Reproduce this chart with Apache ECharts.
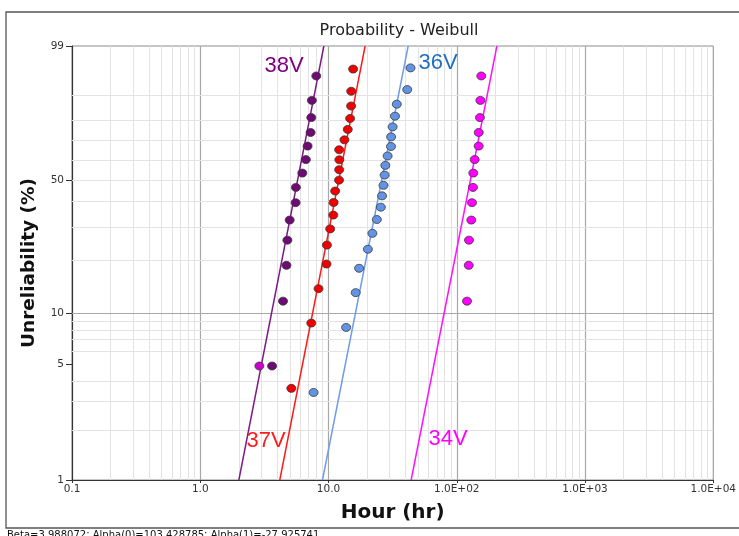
<!DOCTYPE html>
<html><head><meta charset="utf-8">
<script src="https://cdn.jsdelivr.net/npm/echarts@6/dist/echarts.min.js"></script>
<style>html,body{margin:0;padding:0;background:#fff}#c{width:739px;height:536px}</style>
</head><body><div id="c"></div>
<script>
// ---- data (hours, unreliability %) ----
const t38V = [3.63, 4.42, 4.70, 4.78, 4.98, 5.54, 5.57, 6.25, 6.66, 6.87, 7.25, 7.34, 7.42, 8.03];
const F38V = [4.9, 11.8, 18.8, 25.7, 32.6, 39.6, 46.5, 53.5, 60.4, 67.4, 74.3, 81.3, 88.2, 95.1];
const t37V = [5.13, 7.34, 8.36, 9.65, 9.72, 10.31, 10.90, 10.96, 11.27, 12.08, 12.11, 12.15, 12.11, 13.31, 14.13, 14.74, 15.01, 15.03, 15.56];
const F37V = [3.6, 8.8, 13.9, 19.1, 24.2, 29.4, 34.5, 39.7, 44.8, 50.0, 55.2, 60.3, 65.5, 70.6, 75.8, 80.9, 86.1, 91.2, 96.4];
const t36V = [7.65, 13.72, 16.30, 17.32, 20.27, 21.98, 23.82, 25.58, 26.14, 26.85, 27.39, 27.73, 28.90, 30.71, 30.78, 31.60, 32.99, 34.07, 41.1, 43.6];
const F36V = [3.4, 8.3, 13.2, 18.1, 23.0, 27.9, 32.8, 37.7, 42.6, 47.5, 52.5, 57.4, 62.3, 67.2, 72.1, 77.0, 81.9, 86.8, 91.7, 96.6];
const t34V = [2.89, 120.2, 124.0, 124.6, 129.9, 131.5, 133.9, 134.6, 138.0, 148.2, 148.4, 151.7, 152.8, 155.3];
const F34V = [4.9, 11.8, 18.8, 25.7, 32.6, 39.6, 46.5, 53.5, 60.4, 67.4, 74.3, 81.3, 88.2, 95.1];
// fitted Weibull lines: time at F = 1% and at F = 99%
const fitF = [1, 99];
const fit38V = [2.0, 9.2];
const fit37V = [4.17, 19.3];
const fit36V = [8.98, 41.8];
const fit34V = [44.1, 205.6];
// ticks
const xTickValues = [0.1, 1, 10, 100, 1000, 10000];
const xTickLabels = ['0.1', '1.0', '10.0', '1.0E+02', '1.0E+03', '1.0E+04'];
const yTickValues = [1, 5, 10, 50, 99];
const yMinorGrid = [2, 3, 4, 6, 7, 8, 9, 20, 30, 40, 50, 60, 70, 80, 90];
const yMajorGrid = [10];
const xMajorGrid = [1, 10, 100, 1000];
const footer = 'Beta=3.988072; Alpha(0)=103.428785; Alpha(1)=-27.925741';

// Weibull probability transform
const w = F => Math.log(-Math.log(1 - F / 100));
const invw = v => (1 - Math.exp(-Math.exp(v))) * 100;

const pts = (t, F) => t.map((x, i) => [x, w(F[i])]);

const minorCol = '#e3e3e3', majorCol = '#a8a8a8';
const gridLines = [];
for (let d = 0.1; d < 5000; d *= 10) {
  for (let k = 2; k <= 9; k++) gridLines.push({ xAxis: +(d * k).toPrecision(3), lineStyle: { color: minorCol, width: 1, type: 'solid' } });
}
xMajorGrid.forEach(v => gridLines.push({ xAxis: v, lineStyle: { color: majorCol, width: 1.2, type: 'solid' } }));
yMinorGrid.forEach(F => gridLines.push({ yAxis: w(F), lineStyle: { color: minorCol, width: 1, type: 'solid' } }));
yMajorGrid.forEach(F => gridLines.push({ yAxis: w(F), lineStyle: { color: majorCol, width: 1.2, type: 'solid' } }));

const FONT = 'DejaVu Sans';
const chart = echarts.init(document.getElementById('c'), null, { renderer: 'canvas' });

function scat(name, t, F, color) {
  return {
    name, type: 'scatter', z: 6, data: pts(t, F), symbol: 'circle', symbolSize: [9, 8],
    itemStyle: { color, borderColor: '#3a3a3a', borderWidth: 0.8, opacity: 1 }, silent: true
  };
}
// fitted lines drawn by a custom series between two data points through the axes' coord()
const fitSets = [[fit38V, '#7d1a86'], [fit37V, '#ff1a1a'], [fit36V, '#6f9ce8'], [fit34V, '#ff10ff']];
const fitData = fitSets.map(([t], i) => [t[0], w(fitF[0]), t[1], w(fitF[1]), i]);
const fitSeries = {
  type: 'custom', z: 4, silent: true, clip: true,
  data: fitData,
  encode: { x: [0, 2], y: [1, 3] },
  renderItem: (params, api) => {
    const p1 = api.coord([api.value(0), api.value(1)]);
    const p2 = api.coord([api.value(2), api.value(3)]);
    const col = fitSets[api.value(4)][1];
    return { type: 'line', shape: { x1: p1[0], y1: p1[1], x2: p2[0], y2: p2[1] }, style: { stroke: col, lineWidth: 1.5, fill: null } };
  }
};

const s34 = scat('34V', t34V, F34V, '#ff00ff');
s34.data[0] = { value: s34.data[0], itemStyle: { color: '#cc00cc' } };

chart.setOption({
  animation: false,
  backgroundColor: '#fff',
  title: {
    text: 'Probability - Weibull', left: 394, top: 18, textAlign: 'center',
    textStyle: { fontFamily: FONT, fontSize: 16, fontWeight: 'normal', color: '#222' }
  },
  grid: { left: 72, right: 23, top: 46, bottom: 56, show: true, borderColor: '#8c8c8c', borderWidth: 1, backgroundColor: 'transparent' },
  xAxis: {
    type: 'log', logBase: 10, min: 0.1, max: 10000,
    name: 'Hour (hr)', nameLocation: 'middle', nameGap: 23,
    nameTextStyle: { fontFamily: FONT, fontSize: 20, fontWeight: 'bold', color: '#111' },
    axisLine: { show: true, onZero: false, lineStyle: { color: '#333', width: 1.2 } },
    axisTick: { show: true, length: 3, lineStyle: { color: '#333' }, customValues: xTickValues },
    splitLine: { show: false }, minorSplitLine: { show: false },
    axisLabel: {
      customValues: xTickValues, margin: 4,
      fontFamily: FONT, fontSize: 10.5, color: '#333',
      formatter: v => xTickLabels[Math.round(Math.log10(v)) + 1]
    }
  },
  yAxis: {
    type: 'value', min: w(1), max: w(99),
    name: 'Unreliability (%)', nameLocation: 'middle', nameGap: 33, nameRotate: 90,
    nameTextStyle: { fontFamily: FONT, fontSize: 18.5, fontWeight: 'bold', color: '#111' },
    axisLine: { show: true, onZero: false, lineStyle: { color: '#333', width: 1.2 } },
    axisTick: { show: true, length: 6, inside: false, lineStyle: { color: '#333' }, customValues: yTickValues.map(w) },
    splitLine: { show: false },
    axisLabel: {
      customValues: yTickValues.map(w), margin: 8,
      fontFamily: FONT, fontSize: 10.5, color: '#333',
      formatter: v => String(Math.round(invw(v)))
    }
  },
  series: [
    {
      type: 'line', data: [], z: 1, silent: true,
      markLine: { z: 1, silent: true, symbol: ['none', 'none'], label: { show: false }, animation: false, data: gridLines }
    },
    fitSeries,
    scat('38V', t38V, F38V, '#6e0a74'),
    scat('37V', t37V, F37V, '#f00000'),
    scat('36V', t36V, F36V, '#6393e4'),
    s34
  ],
  graphic: [
    { type: 'rect', z: 0, shape: { x: 6, y: 12, width: 760, height: 516 }, style: { fill: 'none', stroke: '#555', lineWidth: 1.3 }, silent: true },
    { type: 'text', z: 10, style: { x: 284, y: 66, text: '38V', fill: '#800080', font: '22px "Liberation Sans"', textAlign: 'center', textVerticalAlign: 'middle' } },
    { type: 'text', z: 10, style: { x: 266, y: 441, text: '37V', fill: '#ff1a1a', font: '22px "Liberation Sans"', textAlign: 'center', textVerticalAlign: 'middle' } },
    { type: 'text', z: 10, style: { x: 438, y: 63, text: '36V', fill: '#1f70c0', font: '22px "Liberation Sans"', textAlign: 'center', textVerticalAlign: 'middle' } },
    { type: 'text', z: 10, style: { x: 448, y: 439, text: '34V', fill: '#ff00ff', font: '22px "Liberation Sans"', textAlign: 'center', textVerticalAlign: 'middle' } },
    { type: 'text', z: 10, style: { x: 7, y: 530, text: footer, fill: '#111', font: '10px "DejaVu Sans"', textAlign: 'left', textVerticalAlign: 'top' } }
  ]
});
</script>
</body></html>
